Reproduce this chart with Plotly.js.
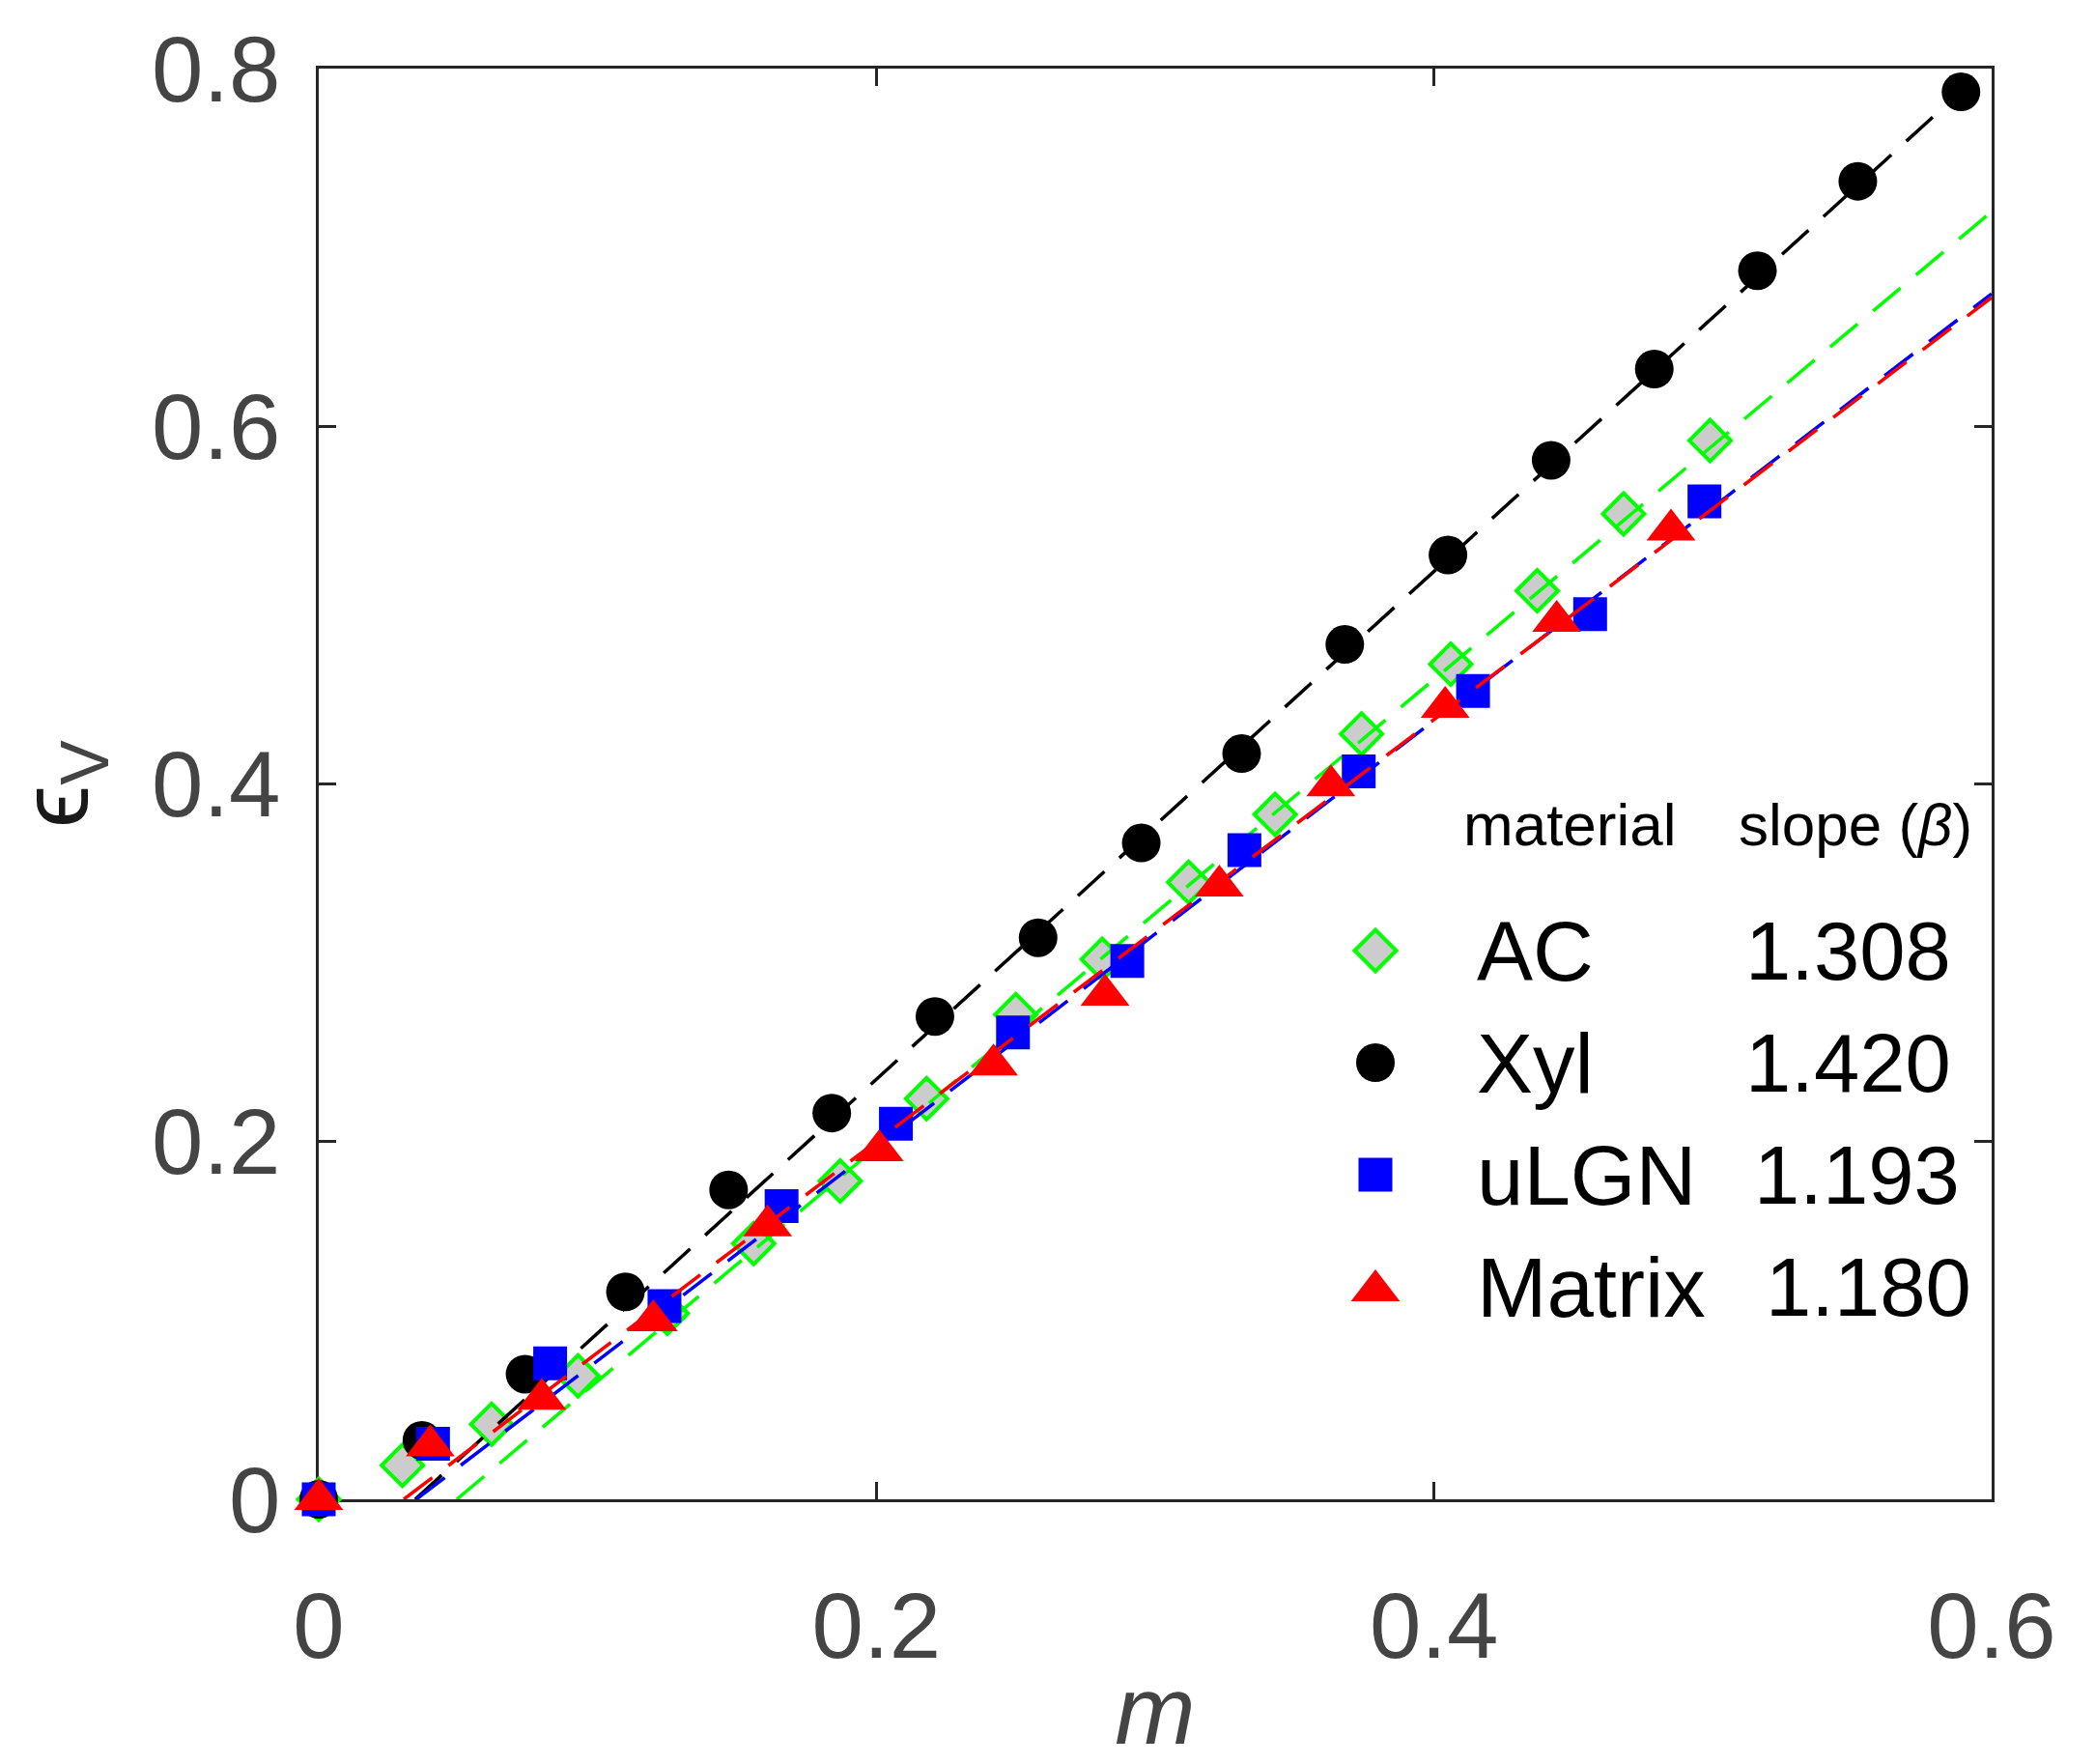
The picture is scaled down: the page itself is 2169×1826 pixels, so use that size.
<!DOCTYPE html>
<html>
<head>
<meta charset="utf-8">
<script src="https://cdn.plot.ly/plotly-3.0.1.min.js"></script>
<style>html, body { margin: 0; padding: 0; background: #fff; }</style>
</head>
<body>
<div id="chart" style="width:2169px;height:1826px"></div>
<script>
// volumetric strain (eps_V) against moisture ratio m, four materials + linear fits

var materials = ['AC', 'Xyl', 'uLGN', 'Matrix'];
var slopes = [1.308, 1.420, 1.193, 1.180];
var fitStart = [0.0495, 0.0346, 0.0350, 0.0305];   // m where each fit line crosses eps = 0
var fitEnd = 0.6;

var acM = [0, 0.030, 0.062, 0.093, 0.125, 0.156, 0.187, 0.218, 0.250, 0.281, 0.312, 0.343, 0.374, 0.406, 0.437, 0.468, 0.499];
var acE = [0, 0.019, 0.042, 0.069, 0.104, 0.143, 0.178, 0.224, 0.271, 0.302, 0.345, 0.383, 0.428, 0.467, 0.508, 0.551, 0.592];

var xylM = [0, 0.037, 0.074, 0.110, 0.147, 0.184, 0.221, 0.258, 0.295, 0.331, 0.368, 0.405, 0.442, 0.479, 0.516, 0.552, 0.589];
var xylE = [0, 0.033, 0.070, 0.116, 0.173, 0.216, 0.270, 0.314, 0.367, 0.417, 0.478, 0.528, 0.581, 0.632, 0.687, 0.737, 0.787];

var ulgnM = [0, 0.041, 0.083, 0.124, 0.166, 0.207, 0.249, 0.290, 0.332, 0.373, 0.414, 0.456, 0.497];
var ulgnE = [0, 0.031, 0.076, 0.108, 0.164, 0.210, 0.261, 0.301, 0.363, 0.407, 0.452, 0.495, 0.558];

var matM = [0, 0.040, 0.080, 0.120, 0.161, 0.201, 0.242, 0.282, 0.323, 0.363, 0.404, 0.444, 0.485];
var matE = [0, 0.030, 0.056, 0.100, 0.153, 0.195, 0.243, 0.282, 0.343, 0.399, 0.443, 0.491, 0.542];

var xTicks = [0, 0.2, 0.4, 0.6];
var xTickText = ['0', '0.2', '0.4', '0.6'];
var yTicks = [0, 0.2, 0.4, 0.6, 0.8];
var yTickText = ['0', '0.2', '0.4', '0.6', '0.8'];

var FONT = '"Liberation Sans", Arial, Helvetica, sans-serif';
var W = 2169, H = 1826;
var M = {l: 330, r: 107, t: 71, b: 274};

// pixel -> paper helpers for the hand-made legend
function px(x) { return (x - M.l) / (W - M.l - M.r); }
function py(y) { return (H - M.b - y) / (H - M.t - M.b); }

var markers = [
    {symbol: 'diamond', size: 33, color: '#cccccc', line: {color: '#00ff00', width: 4}},
    {symbol: 'circle', size: 40, color: '#000000', line: {width: 0}},
    {symbol: 'square', size: 35, color: '#0000ff', line: {width: 0}},
    {symbol: 'triangle-up', size: 44, color: '#ff0000', line: {width: 0}}
];
var lineColors = ['#00ff00', '#000000', '#0000ff', '#ff0000'];
var seriesX = [acM, xylM, ulgnM, matM];
var seriesY = [acE, xylE, ulgnE, matE];

var data = [];
for (var i = 0; i < materials.length; i++) {
    data.push({
        type: 'scatter', mode: 'markers', name: materials[i],
        x: seriesX[i], y: seriesY[i],
        marker: Object.assign({opacity: 1}, markers[i]),
        cliponaxis: false, showlegend: false, hoverinfo: 'skip'
    });
    // fitted line, eps = beta * (m - m0)
    data.push({
        type: 'scatter', mode: 'lines', name: materials[i] + ' fit',
        x: [fitStart[i], fitEnd],
        y: [0, slopes[i] * (fitEnd - fitStart[i])],
        line: {color: lineColors[i], width: 3.5, dash: '37px,21px'},
        showlegend: false, hoverinfo: 'skip'
    });
}

// legend keys sit on a hidden 0..1 overlay so they can be placed like a legend
var keyX = 1424, rowTop = 984, rowGap = 116;
var keyXs = [], keyYs = [];
for (var k = 0; k < materials.length; k++) {
    keyXs.push(px(keyX));
    keyYs.push(py(rowTop + k * rowGap + (k === 3 ? 4 : 0)));
}
data.push({
    type: 'scatter', mode: 'markers', xaxis: 'x2', yaxis: 'y2',
    x: keyXs, y: keyYs,
    marker: {
        opacity: 1,
        symbol: markers.map(function(m) { return m.symbol; }),
        size: markers.map(function(m) { return m.size; }),
        color: markers.map(function(m) { return m.color; }),
        line: {
            color: markers.map(function(m) { return m.line.color || m.color; }),
            width: markers.map(function(m) { return m.line.width; })
        }
    },
    cliponaxis: false, showlegend: false, hoverinfo: 'skip'
});

var nameX = 1527;
var valueX = [1805, 1805, 1814, 1826];
var annotations = [
    {text: 'material', x: px(1513), y: py(853), xanchor: 'left', yanchor: 'middle',
     font: {size: 62}},
    {text: 'slope (<i>β</i>)', x: px(1798), y: py(853), xanchor: 'left', yanchor: 'middle',
     font: {size: 62}}
];
for (var r = 0; r < materials.length; r++) {
    annotations.push({text: materials[r], x: px(nameX), y: py(rowTop + r * rowGap),
        xanchor: 'left', yanchor: 'middle', font: {size: 87}});
    annotations.push({text: slopes[r].toFixed(3), x: px(valueX[r]), y: py(rowTop + r * rowGap),
        xanchor: 'left', yanchor: 'middle', font: {size: 85}});
}
annotations.forEach(function(a) {
    a.xref = 'paper'; a.yref = 'paper'; a.showarrow = false;
    a.font.family = FONT; a.font.color = '#000000';
});

var axisCommon = {
    showgrid: false, zeroline: false,
    showline: true, linecolor: '#262626', linewidth: 3.3, mirror: 'ticks',
    ticks: 'inside', ticklen: 18, tickwidth: 3, tickcolor: '#262626',
    tickfont: {family: FONT, size: 96, color: '#444444'},
    tickmode: 'array', layer: 'below traces', fixedrange: true
};

var layout = {
    width: W, height: H,
    margin: M,
    paper_bgcolor: '#ffffff', plot_bgcolor: '#ffffff',
    font: {family: FONT},
    showlegend: false,
    xaxis: Object.assign({}, axisCommon, {
        range: [0, 0.6], tickvals: xTicks, ticktext: xTickText, ticklabelstandoff: 45,
        title: {text: '<i>m</i>', font: {family: FONT, size: 100, color: '#444444'}, standoff: 27}
    }),
    yaxis: Object.assign({}, axisCommon, {
        range: [0, 0.8], tickvals: yTicks, ticktext: yTickText, ticklabelstandoff: 17,
        title: {text: '<span style="color:#1a1a1a">ϵ</span><sub>V</sub>',
                font: {family: FONT, size: 100, color: '#444444'}, standoff: 57}
    }),
    xaxis2: {overlaying: 'x', anchor: 'y2', range: [0, 1], visible: false, fixedrange: true},
    yaxis2: {overlaying: 'y', anchor: 'x2', range: [0, 1], visible: false, fixedrange: true},
    annotations: annotations
};

Plotly.newPlot('chart', data, layout, {displayModeBar: false, staticPlot: true});
</script>
</body>
</html>
